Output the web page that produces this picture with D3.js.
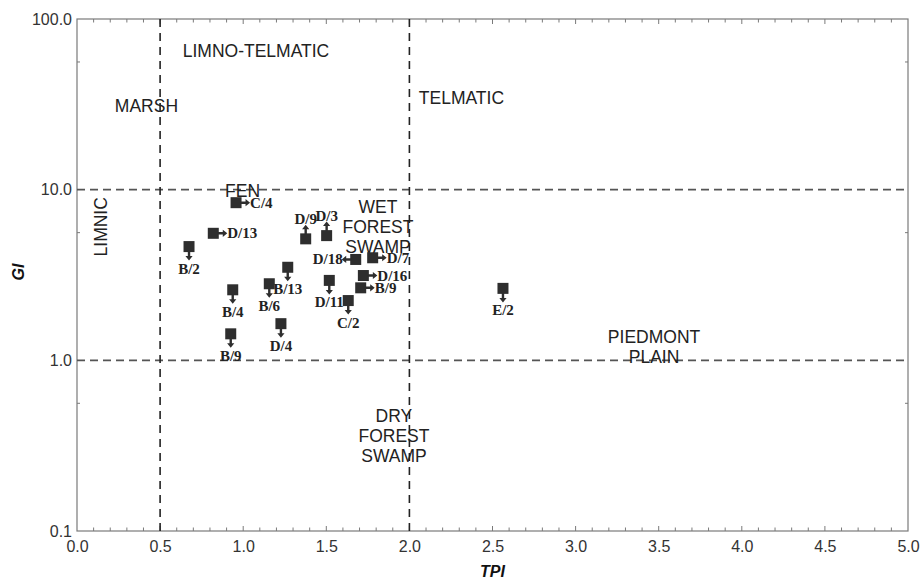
<!DOCTYPE html>
<html><head><meta charset="utf-8">
<script src="https://cdn.jsdelivr.net/npm/d3@7"></script>
<style>body{margin:0;background:#fff}svg{display:block}</style>
</head><body>
<svg id="c" width="921" height="581"></svg>
<script>
// ---- data ----
const sampleLabels = ["C/4","D/13","B/2","D/9","D/3","D/18","D/7","D/16","B/9","B/13","B/6","B/4","D/11","C/2","D/4","B/9","E/2"];
const tpiValues    = [0.957,0.82,0.674,1.376,1.502,1.677,1.779,1.723,1.707,1.268,1.157,0.937,1.518,1.632,1.227,0.925,2.563];
const giValues     = [8.39,5.55,4.64,5.15,5.38,3.90,3.99,3.14,2.66,3.51,2.81,2.59,2.94,2.24,1.64,1.43,2.64];
const arrowDirs    = ["right","right","down","up","up","left","right","right","right","down","down","down","down","down","down","down","down"];
const xTickValues  = [0,0.5,1,1.5,2,2.5,3,3.5,4,4.5,5];
const yTickValues  = [0.1,1,10,100];
const yTickLabels  = ["0.1","1.0","10.0","100.0"];
const yMinorTicks  = [0.56,5.6,56];
const tpiBounds    = [0.5,2.0];
const giBounds     = [1,10];
const zoneNames    = [["LIMNO-TELMATIC"],["MARSH"],["TELMATIC"],["FEN"],["LIMNIC"],["WET","FOREST","SWAMP"],["PIEDMONT","PLAIN"],["DRY","FOREST","SWAMP"]];
const zoneTpi      = [1.077,0.418,2.313,0.996,0.179,1.811,3.472,1.907];
const zoneGi       = [59.8,28.5,31.7,9.05,6.06,7.26,1.263,0.437];

// ---- layout ----
const W=921,H=581,m={l:77,r:13,t:19,b:50};
const svg=d3.select("#c");
const x=d3.scaleLinear().domain([0,5]).range([m.l,W-m.r]);
const y=d3.scaleLog().domain([0.1,100]).range([H-m.b,m.t]);
const axisCol="#7a7a7a";

// tick labels
const lblFont="'Liberation Sans',Arial,sans-serif";
const xAx=svg.append("g").attr("transform",`translate(0,${H-m.b})`)
  .call(d3.axisBottom(x).tickValues(xTickValues).tickFormat(d3.format(".1f")).tickSize(0).tickPadding(10));
const yAx=svg.append("g").attr("transform",`translate(${m.l},0)`)
  .call(d3.axisLeft(y).tickValues(yTickValues).tickFormat((d,i)=>yTickLabels[i]).tickSize(0).tickPadding(5));
[xAx,yAx].forEach(g=>{g.select(".domain").remove();
  g.selectAll("text").attr("font-family",lblFont).attr("font-size",16).attr("fill","#333");});

// frame
svg.append("rect").attr("x",m.l).attr("y",m.t).attr("width",W-m.l-m.r).attr("height",H-m.t-m.b)
  .attr("fill","none").attr("stroke",axisCol).attr("stroke-width",1.2);

// inner ticks
const xt=d3.range(1,50).map(i=>i/10);
xt.forEach(v=>{
  const len=(Math.round(v*10)%5===0)?5:3.5;
  svg.append("line").attr("x1",x(v)).attr("x2",x(v)).attr("y1",H-m.b).attr("y2",H-m.b-len).attr("stroke",axisCol);
  svg.append("line").attr("x1",x(v)).attr("x2",x(v)).attr("y1",m.t).attr("y2",m.t+len).attr("stroke",axisCol);
});
yMinorTicks.forEach(v=>{
  svg.append("line").attr("x1",m.l).attr("x2",m.l+3).attr("y1",y(v)).attr("y2",y(v)).attr("stroke",axisCol);
  svg.append("line").attr("x1",W-m.r).attr("x2",W-m.r-3).attr("y1",y(v)).attr("y2",y(v)).attr("stroke",axisCol);
});

// dashed boundaries
giBounds.forEach(v=>svg.append("line").attr("x1",m.l).attr("x2",W-m.r).attr("y1",y(v)).attr("y2",y(v))
  .attr("stroke","#555").attr("stroke-width",1.6).attr("stroke-dasharray","8,5"));
tpiBounds.forEach(v=>svg.append("line").attr("x1",x(v)).attr("x2",x(v)).attr("y1",m.t).attr("y2",H-m.b)
  .attr("stroke","#222").attr("stroke-width",1.6).attr("stroke-dasharray","8,6"));

// zone labels
zoneNames.forEach((lines,i)=>{
  const t=svg.append("text").attr("font-family",lblFont).attr("font-size",17.5).attr("fill","#222")
    .attr("text-anchor","middle");
  if(lines[0]==="LIMNIC"){
    t.attr("transform",`translate(${x(zoneTpi[i])},${y(zoneGi[i])}) rotate(-90)`).text(lines[0]);
  } else {
    t.attr("x",x(zoneTpi[i])).attr("y",y(zoneGi[i]));
    lines.forEach((s,j)=>t.append("tspan").attr("x",x(zoneTpi[i])).attr("dy",j?20:0).text(s));
  }
});

// points
const pts=sampleLabels.map((s,i)=>({s,tx:tpiValues[i],gi:giValues[i],dir:arrowDirs[i]}));
const col="#2e2e2e", hs=5.5;
const g=svg.append("g");
pts.forEach(p=>{
  const cx=x(p.tx), cy=y(p.gi);
  g.append("rect").attr("x",cx-hs).attr("y",cy-hs).attr("width",2*hs).attr("height",2*hs).attr("fill",col);
  const ang={right:0,down:90,left:180,up:-90}[p.dir];
  g.append("path").attr("d",`M${hs-1},-1.2L${hs+4},-1.2L${hs+4},-3.6L${hs+8.5},0L${hs+4},3.6L${hs+4},1.2L${hs-1},1.2Z`)
    .attr("fill",col).attr("transform",`translate(${cx},${cy}) rotate(${ang})`);
  const t=g.append("text").attr("font-family","'Liberation Serif','Times New Roman',serif")
    .attr("font-weight","bold").attr("font-size",15).attr("fill","#222").text(p.s);
  if(p.dir==="down") t.attr("x",cx).attr("y",cy+27).attr("text-anchor","middle");
  if(p.dir==="up") t.attr("x",cx).attr("y",cy-15).attr("text-anchor","middle");
  if(p.dir==="right") t.attr("x",cx+14).attr("y",cy+5).attr("text-anchor","start");
  if(p.dir==="left") t.attr("x",cx-13).attr("y",cy+5).attr("text-anchor","end");
});

// axis titles
svg.append("text").attr("x",x(2.5)).attr("y",577).attr("text-anchor","middle")
  .attr("font-family",lblFont).attr("font-weight","bold").attr("font-style","italic").attr("font-size",16)
  .attr("fill","#111").text("TPI");
svg.append("text").attr("transform","translate(24,272) rotate(-90)").attr("text-anchor","middle")
  .attr("font-family",lblFont).attr("font-weight","bold").attr("font-style","italic").attr("font-size",16)
  .attr("fill","#111").text("GI");
</script>
</body></html>
